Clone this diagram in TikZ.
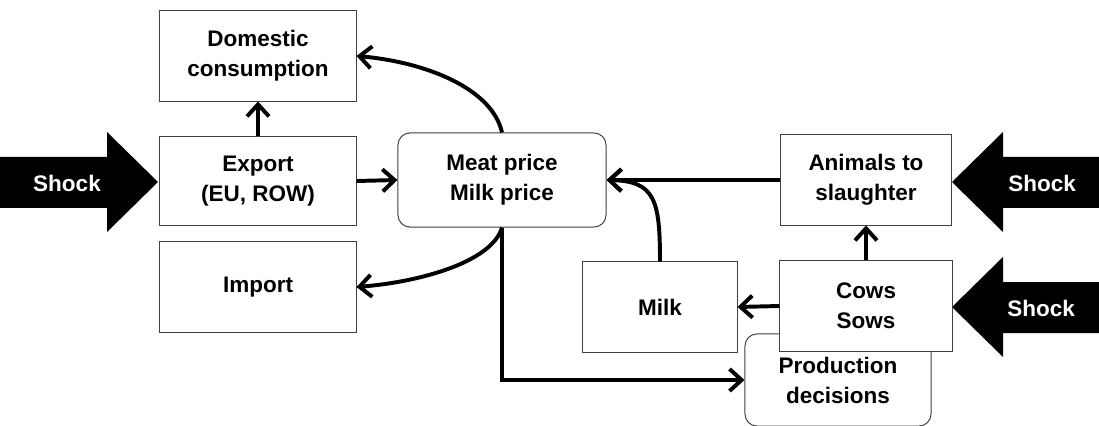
\documentclass[tikz,border=0pt]{standalone}
\usepackage{fontspec}
\setmainfont{Liberation Sans}
\usepackage{tikz}
\usetikzlibrary{arrows.meta}
\usetikzlibrary{positioning}
\tikzset{
    box/.style={
        draw=black!75,
        line width=0.7pt,
        fill=white,
        align=center,
        minimum height=2.25cm,
        inner sep=2pt,
        font=\fontsize{16}{21.3}\selectfont\bfseries
    },
    roundbox/.style={
        box,
        rounded corners=0.3cm
    },
    link/.style={
        draw,
        line width=2.8pt,
        -{Straight Barb[length=0.3cm, width=0.55cm]}
    },
    shock/.style={
        fill=black
    },
    shocktext/.style={
        text=white,
        font=\fontsize{16}{21.3}\selectfont\bfseries
    }
}

\begin{document}
\begin{tikzpicture}[x=0.025cm, y=-0.025cm]
    \useasboundingbox (0,0) rectangle (1099,426);

    % Shock arrows
    \fill[shock] (0,157) -- (107,157) -- (107,132) -- (158,182) -- (107,232) -- (107,208) -- (0,208) -- cycle;
    \fill[shock] (1099,157) -- (1003,157) -- (1003,132) -- (952,182) -- (1003,232) -- (1003,208) -- (1099,208) -- cycle;
    \fill[shock] (1099,282) -- (1003,282) -- (1003,257) -- (952,307) -- (1003,357) -- (1003,333) -- (1099,333) -- cycle;
    \node[shocktext] (shockL) at (67,183) {Shock};
    \node[shocktext] (shockA) at (1042,183) {Shock};
    \node[shocktext] (shockC) at (1041,308) {Shock};

    % Boxes
    \node[box, minimum width=4.9cm] (dom) at (258,56) {Domestic\\consumption};
    \node[box, minimum width=4.9cm, minimum height=2.2cm] (exp) at (258,181) {Export\\(EU, ROW)};
    \node[box, minimum width=4.9cm] (imp) at (258,287) {Import};
    \node[roundbox, minimum width=5.2cm, minimum height=2.35cm] (meat) at (502,180) {Meat price\\Milk price};
    \node[box, minimum width=4.25cm] (anim) at (866,180) {Animals to\\slaughter};
    \node[box, minimum width=3.85cm] (milk) at (660,307) {Milk};
    \node[roundbox, minimum width=4.65cm, minimum height=2.3cm] (prod) at (838,380) {Production\\decisions};
    \node[box, minimum width=4.3cm] (cows) at (866,306) {Cows\\Sows};

    % Arrows
    \draw[link] (exp.north) -- (dom.south);
    \draw[link] (exp.east) -- (meat.west);
    \draw[link] (meat.north) .. controls (492,88) and (425,62) .. (dom.east);
    \draw[link] (meat.south) .. controls (492,262) and (420,282) .. (imp.east);
    \draw[link] (meat.south) |- (prod.west);
    \draw[link] (anim.west) -- (meat.east);
    \draw[link] (milk.north) .. controls (660,200) and (655,181) .. (meat.east);
    \draw[link] (cows.north) -- (anim.south);
    \draw[link] (cows.west) -- (milk.east);
\end{tikzpicture}
\end{document}
